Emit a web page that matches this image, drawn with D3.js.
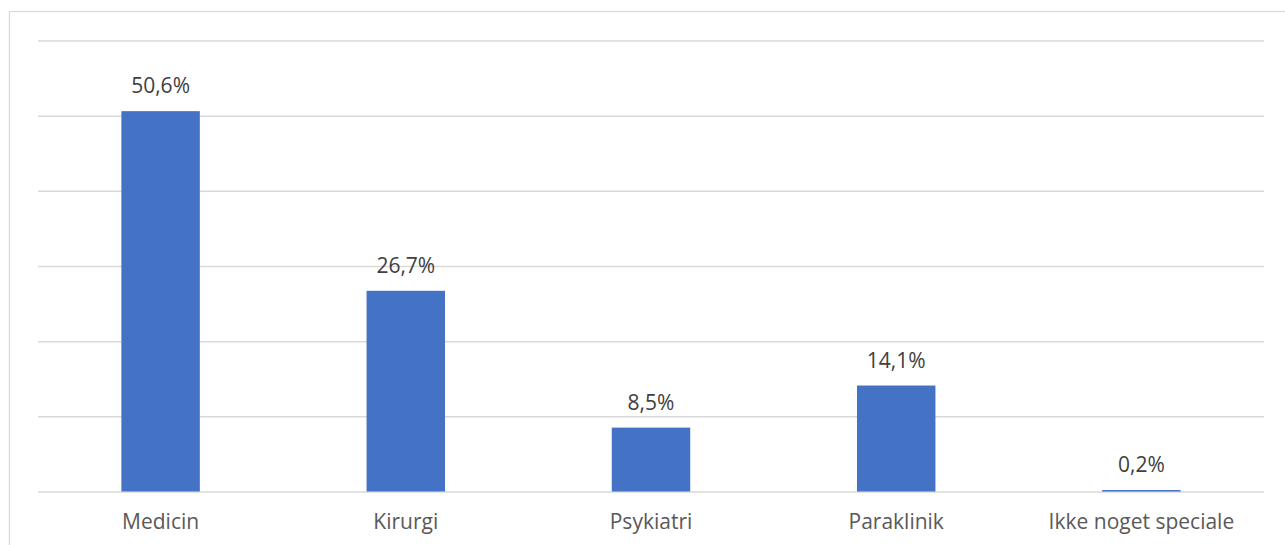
<!DOCTYPE html>
<html>
<head>
<meta charset="utf-8">
<script src="https://cdn.jsdelivr.net/npm/d3@7"></script>
<style>
    body { margin: 0; background: #fff; }
    svg { display: block; font-family: "Open Sans", sans-serif; }
</style>
</head>
<body>
<svg id="chart" width="1285" height="545"></svg>
<script>
// chart data
var categories = ["Medicin", "Kirurgi", "Psykiatri", "Paraklinik", "Ikke noget speciale"];
var values = [50.6, 26.7, 8.5, 14.1, 0.2];
var yTicks = [0, 10, 20, 30, 40, 50, 60];

var svg = d3.select("#chart"),
    margin = {top: 40.5, right: 21, bottom: 53.5, left: 38},
    width = +svg.attr("width") - margin.left - margin.right,
    height = +svg.attr("height") - margin.top - margin.bottom;

// outer chart border (only top and left visible)
svg.append("rect")
    .attr("x", 9.5)
    .attr("y", 11.5)
    .attr("width", 1300)
    .attr("height", 600)
    .attr("fill", "none")
    .attr("stroke", "#d9d9d9")
    .attr("stroke-width", 1.3);

var x = d3.scaleBand().domain(categories).range([0, width]).paddingInner(0.68).paddingOuter(0.34),
    y = d3.scaleLinear().domain([0, 60]).range([height, 0]);

var g = svg.append("g")
    .attr("transform", "translate(" + margin.left + "," + margin.top + ")");

// gridlines
g.append("g")
    .attr("class", "grid")
    .call(d3.axisLeft(y).tickValues(yTicks).tickSize(-width).tickFormat(""))
    .call(function (s) {
        s.select(".domain").remove();
        s.selectAll(".tick line").attr("stroke", "#d9d9d9").attr("stroke-width", 1.5);
    });

// bars
g.selectAll(".bar")
    .data(values)
    .enter().append("rect")
    .attr("class", "bar")
    .attr("x", function (d, i) { return x(categories[i]); })
    .attr("y", function (d) { return y(d); })
    .attr("width", x.bandwidth())
    .attr("height", function (d) { return height - y(d); })
    .style("fill", "#4472c4");

// value labels
g.selectAll(".label")
    .data(values)
    .enter().append("text")
    .attr("class", "label")
    .attr("x", function (d, i) { return x(categories[i]) + x.bandwidth() / 2; })
    .attr("y", function (d) { return y(d) - 18; })
    .attr("text-anchor", "middle")
    .attr("font-size", "21px")
    .attr("fill", "#404040")
    .text(function (d) { return d.toFixed(1).replace(".", ",") + "%"; });

// x axis labels
g.append("g")
    .attr("transform", "translate(0," + height + ")")
    .call(d3.axisBottom(x).tickSize(0).tickPadding(0))
    .call(function (s) {
        s.select(".domain").remove();
        s.selectAll("text")
            .attr("y", 37)
            .attr("dy", 0)
            .attr("font-size", "21px")
            .attr("font-family", "Open Sans, sans-serif")
            .attr("fill", "#595959");
    });
</script>
</body>
</html>
